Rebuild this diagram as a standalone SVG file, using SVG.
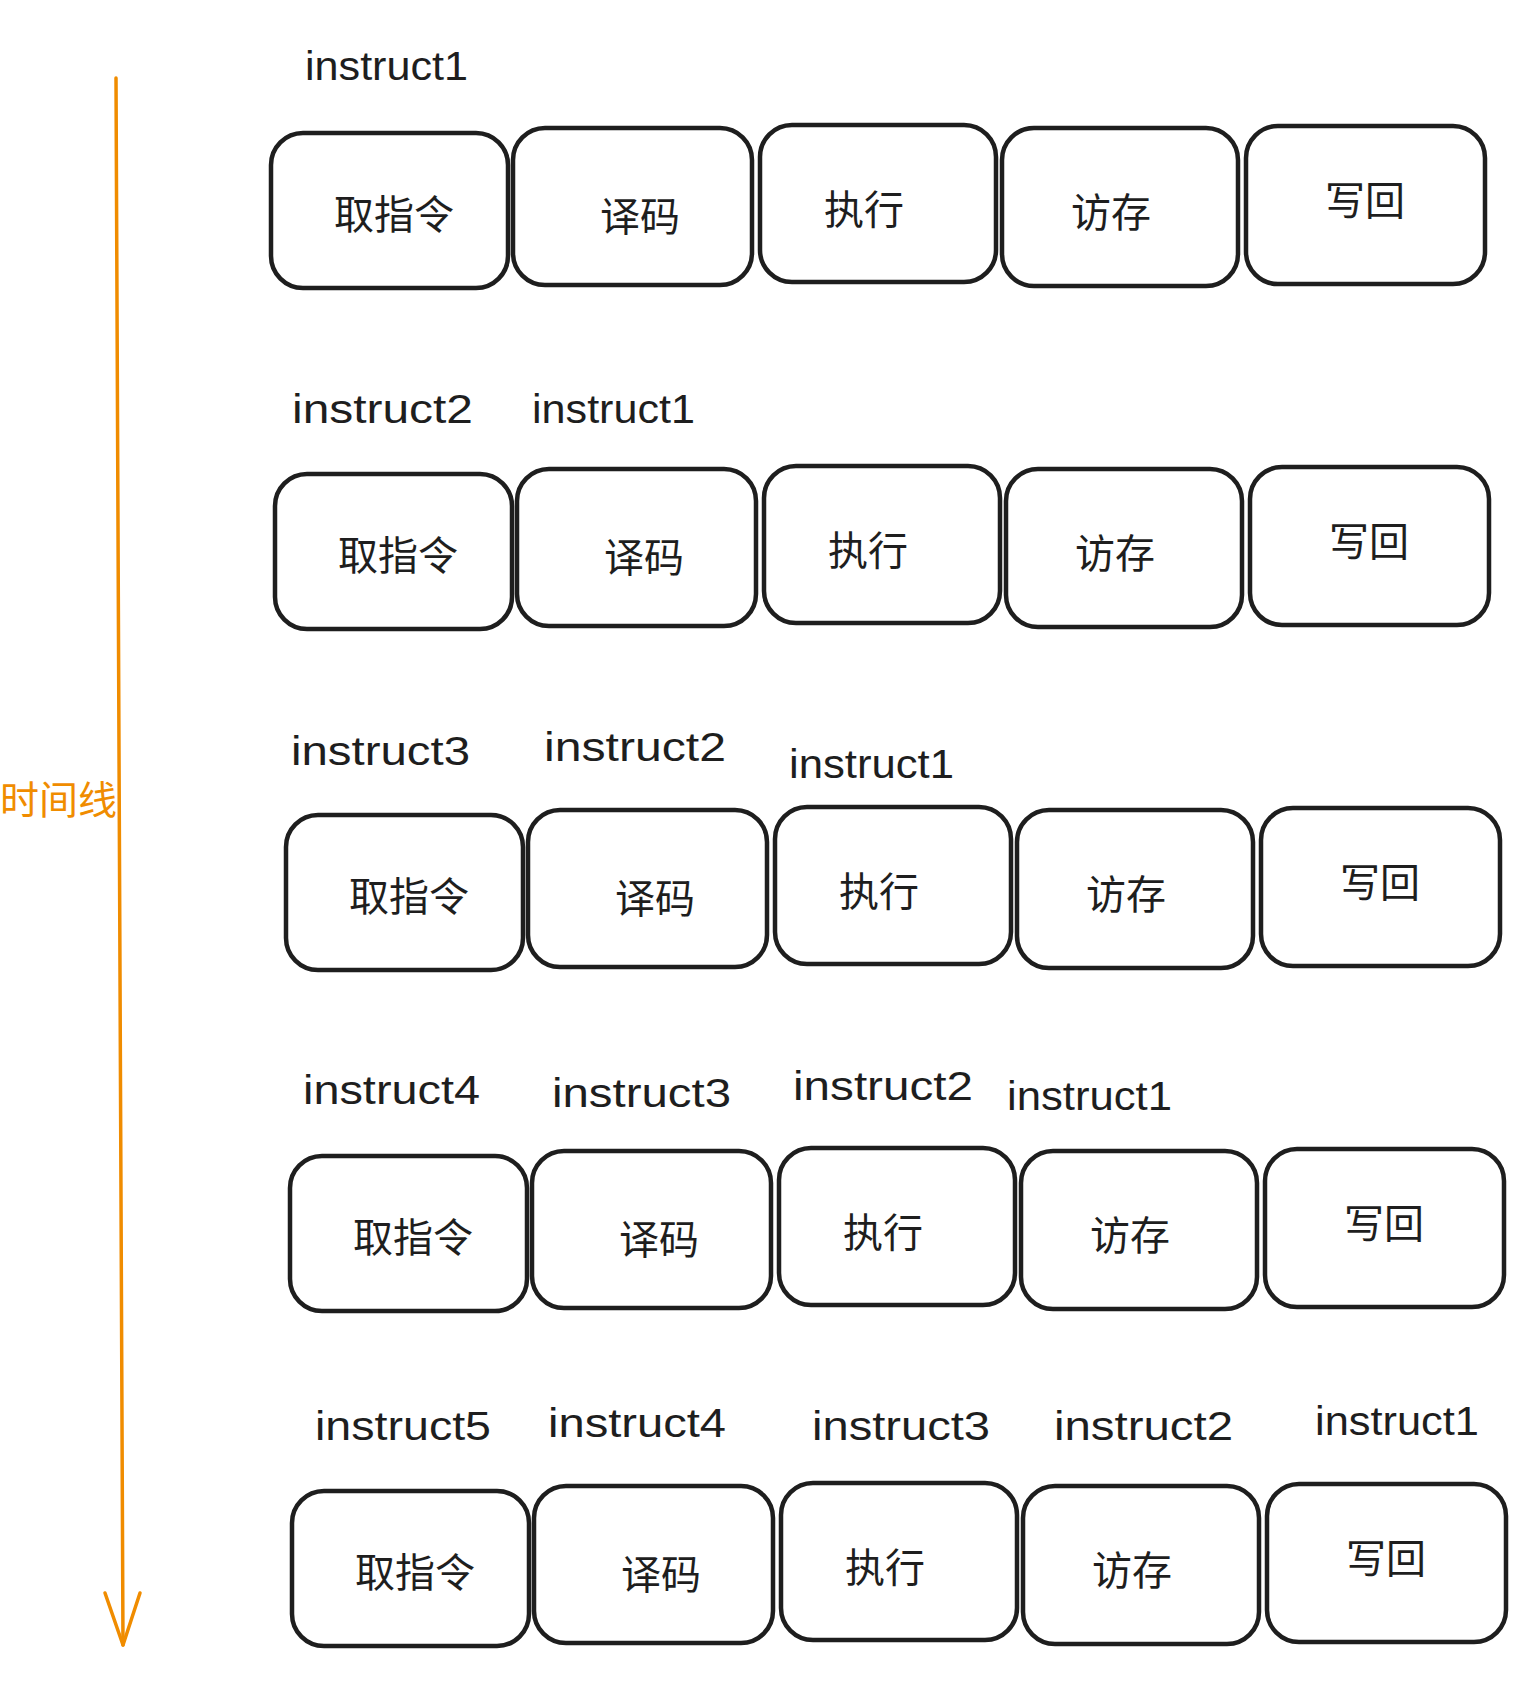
<svg xmlns="http://www.w3.org/2000/svg" width="1536" height="1694" viewBox="0 0 1536 1694">
<style>
.box{fill:#ffffff;stroke:#1e1e1e;stroke-width:4.5}
.t{font-family:"Noto Sans CJK SC","Liberation Sans",sans-serif;font-size:40px;fill:#1e1e1e;text-anchor:middle}
.lbl{font-family:"Liberation Sans","Noto Sans",sans-serif;font-size:40px;fill:#1e1e1e}
.time{font-family:"Noto Sans CJK SC",sans-serif;font-size:39px;fill:#f08c00}
.conn{stroke:#f08c00;stroke-width:3.5;fill:none;stroke-linecap:round;stroke-linejoin:round}
</style>
<rect width="1536" height="1694" fill="#ffffff"/>
<g id="connectors">
<path class="conn" d="M116 78 L123 1645"/>
<path class="conn" d="M105 1593 L123 1645 L140 1593"/>
</g>
<g id="timeline-label"><text class="time" x="0" y="814">时间线</text></g>

<g id="row1">
<g id="r1-fetch"><rect class="box" x="271" y="133" width="237" height="155" rx="32"/><text class="t" x="394" y="229">取指令</text></g>
<g id="r1-decode"><rect class="box" x="513" y="128" width="239" height="157" rx="32"/><text class="t" x="640" y="231">译码</text></g>
<g id="r1-exec"><rect class="box" x="760" y="125" width="236" height="157" rx="32"/><text class="t" x="864" y="224">执行</text></g>
<g id="r1-mem"><rect class="box" x="1002" y="128" width="236" height="158" rx="32"/><text class="t" x="1111" y="227">访存</text></g>
<g id="r1-wb"><rect class="box" x="1246" y="126" width="239" height="158" rx="32"/><text class="t" x="1365" y="215">写回</text></g>
</g>

<g id="row2" transform="translate(4,341)">
<g id="r2-fetch"><rect class="box" x="271" y="133" width="237" height="155" rx="32"/><text class="t" x="394" y="229">取指令</text></g>
<g id="r2-decode"><rect class="box" x="513" y="128" width="239" height="157" rx="32"/><text class="t" x="640" y="231">译码</text></g>
<g id="r2-exec"><rect class="box" x="760" y="125" width="236" height="157" rx="32"/><text class="t" x="864" y="224">执行</text></g>
<g id="r2-mem"><rect class="box" x="1002" y="128" width="236" height="158" rx="32"/><text class="t" x="1111" y="227">访存</text></g>
<g id="r2-wb"><rect class="box" x="1246" y="126" width="239" height="158" rx="32"/><text class="t" x="1365" y="215">写回</text></g>
</g>

<g id="row3" transform="translate(15,682)">
<g id="r3-fetch"><rect class="box" x="271" y="133" width="237" height="155" rx="32"/><text class="t" x="394" y="229">取指令</text></g>
<g id="r3-decode"><rect class="box" x="513" y="128" width="239" height="157" rx="32"/><text class="t" x="640" y="231">译码</text></g>
<g id="r3-exec"><rect class="box" x="760" y="125" width="236" height="157" rx="32"/><text class="t" x="864" y="224">执行</text></g>
<g id="r3-mem"><rect class="box" x="1002" y="128" width="236" height="158" rx="32"/><text class="t" x="1111" y="227">访存</text></g>
<g id="r3-wb"><rect class="box" x="1246" y="126" width="239" height="158" rx="32"/><text class="t" x="1365" y="215">写回</text></g>
</g>

<g id="row4" transform="translate(19,1023)">
<g id="r4-fetch"><rect class="box" x="271" y="133" width="237" height="155" rx="32"/><text class="t" x="394" y="229">取指令</text></g>
<g id="r4-decode"><rect class="box" x="513" y="128" width="239" height="157" rx="32"/><text class="t" x="640" y="231">译码</text></g>
<g id="r4-exec"><rect class="box" x="760" y="125" width="236" height="157" rx="32"/><text class="t" x="864" y="224">执行</text></g>
<g id="r4-mem"><rect class="box" x="1002" y="128" width="236" height="158" rx="32"/><text class="t" x="1111" y="227">访存</text></g>
<g id="r4-wb"><rect class="box" x="1246" y="126" width="239" height="158" rx="32"/><text class="t" x="1365" y="215">写回</text></g>
</g>

<g id="row5" transform="translate(21,1358)">
<g id="r5-fetch"><rect class="box" x="271" y="133" width="237" height="155" rx="32"/><text class="t" x="394" y="229">取指令</text></g>
<g id="r5-decode"><rect class="box" x="513" y="128" width="239" height="157" rx="32"/><text class="t" x="640" y="231">译码</text></g>
<g id="r5-exec"><rect class="box" x="760" y="125" width="236" height="157" rx="32"/><text class="t" x="864" y="224">执行</text></g>
<g id="r5-mem"><rect class="box" x="1002" y="128" width="236" height="158" rx="32"/><text class="t" x="1111" y="227">访存</text></g>
<g id="r5-wb"><rect class="box" x="1246" y="126" width="239" height="158" rx="32"/><text class="t" x="1365" y="215">写回</text></g>
</g>

<g id="labels">
<text class="lbl" x="305" y="80" textLength="163" lengthAdjust="spacingAndGlyphs">instruct1</text>

<text class="lbl" x="292" y="423" textLength="181" lengthAdjust="spacingAndGlyphs">instruct2</text>
<text class="lbl" x="532" y="423" textLength="163" lengthAdjust="spacingAndGlyphs">instruct1</text>

<text class="lbl" x="291" y="765" textLength="179" lengthAdjust="spacingAndGlyphs">instruct3</text>
<text class="lbl" x="544" y="761" textLength="182" lengthAdjust="spacingAndGlyphs">instruct2</text>
<text class="lbl" x="789" y="778" textLength="165" lengthAdjust="spacingAndGlyphs">instruct1</text>

<text class="lbl" x="303" y="1104" textLength="177" lengthAdjust="spacingAndGlyphs">instruct4</text>
<text class="lbl" x="552" y="1107" textLength="179" lengthAdjust="spacingAndGlyphs">instruct3</text>
<text class="lbl" x="793" y="1100" textLength="180" lengthAdjust="spacingAndGlyphs">instruct2</text>
<text class="lbl" x="1007" y="1110" textLength="165" lengthAdjust="spacingAndGlyphs">instruct1</text>

<text class="lbl" x="315" y="1440" textLength="176" lengthAdjust="spacingAndGlyphs">instruct5</text>
<text class="lbl" x="548" y="1437" textLength="178" lengthAdjust="spacingAndGlyphs">instruct4</text>
<text class="lbl" x="812" y="1440" textLength="178" lengthAdjust="spacingAndGlyphs">instruct3</text>
<text class="lbl" x="1054" y="1440" textLength="179" lengthAdjust="spacingAndGlyphs">instruct2</text>
<text class="lbl" x="1315" y="1435" textLength="164" lengthAdjust="spacingAndGlyphs">instruct1</text>
</g>
</svg>
